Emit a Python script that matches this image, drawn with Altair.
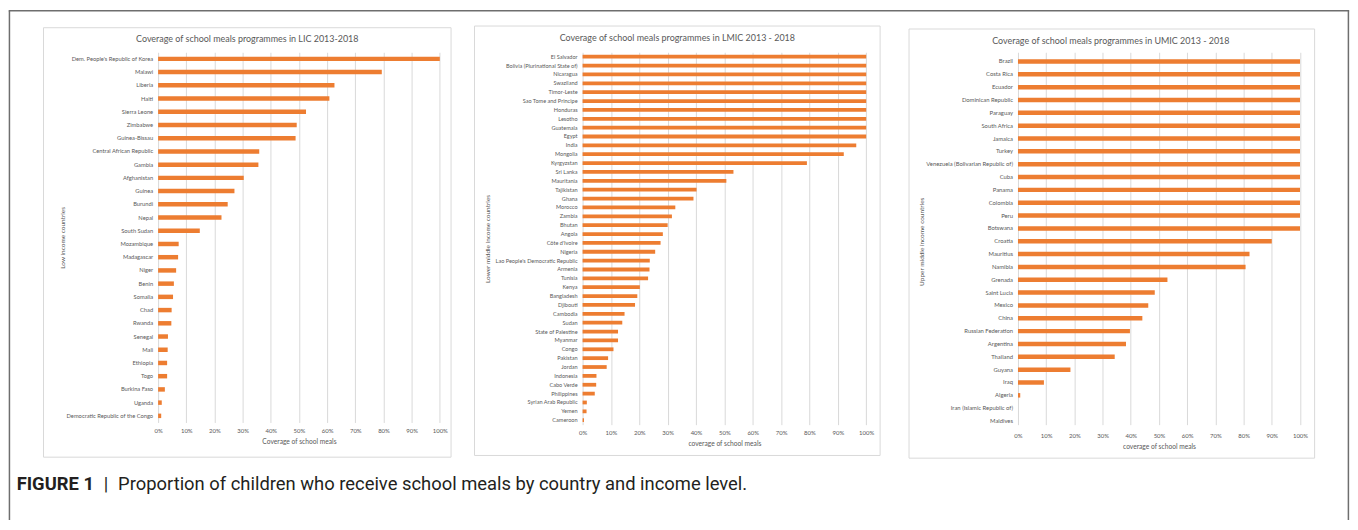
import altair as alt
import pandas as pd

# ---------------- data ----------------
lic_countries = [
    "Dem. People's Republic of Korea", "Malawi", "Liberia", "Haiti", "Sierra Leone",
    "Zimbabwe", "Guinea-Bissau", "Central African Republic", "Gambia", "Afghanistan",
    "Guinea", "Burundi", "Nepal", "South Sudan", "Mozambique", "Madagascar", "Niger",
    "Benin", "Somalia", "Chad", "Rwanda", "Senegal", "Mali", "Ethiopia", "Togo",
    "Burkina Faso", "Uganda", "Democratic Republic of the Congo",
]
lic_coverage = [
    100, 79.4, 62.6, 60.8, 52.5, 49.2, 48.8, 35.9, 35.6, 30.4, 27.1, 24.7, 22.5, 14.8,
    7.3, 7.1, 6.4, 5.6, 5.3, 4.8, 4.7, 3.5, 3.4, 3.2, 3.2, 2.4, 1.3, 1.1,
]

lmic_countries = [
    "El Salvador", "Bolivia (Plurinational State of)", "Nicaragua", "Swaziland",
    "Timor-Leste", "Sao Tome and Principe", "Honduras", "Lesotho", "Guatemala", "Egypt",
    "India", "Mongolia", "Kyrgyzstan", "Sri Lanka", "Mauritania", "Tajikistan", "Ghana",
    "Morocco", "Zambia", "Bhutan", "Angola", "Côte d'Ivoire", "Nigeria",
    "Lao People's Democratic Republic", "Armenia", "Tunisia", "Kenya", "Bangladesh",
    "Djibouti", "Cambodia", "Sudan", "State of Palestine", "Myanmar", "Congo", "Pakistan",
    "Jordan", "Indonesia", "Cabo Verde", "Philippines", "Syrian Arab Republic", "Yemen",
    "Cameroon",
]
lmic_coverage = [
    100, 100, 100, 100, 100, 100, 100, 100, 100, 100,
    96.5, 92.1, 79.1, 53.2, 50.7, 40.2, 39.1, 32.7, 31.5, 30.0,
    28.3, 27.5, 25.6, 23.7, 23.6, 23.1, 20.2, 19.3, 18.5, 14.8,
    14.0, 12.5, 12.5, 10.9, 9.0, 8.5, 4.9, 4.8, 4.3, 1.5, 1.4, 0.5,
]

umic_countries = [
    "Brazil", "Costa Rica", "Ecuador", "Dominican Republic", "Paraguay", "South Africa",
    "Jamaica", "Turkey", "Venezuela (Bolivarian Republic of)", "Cuba", "Panama",
    "Colombia", "Peru", "Botswana", "Croatia", "Mauritius", "Namibia", "Grenada",
    "Saint Lucia", "Mexico", "China", "Russian Federation", "Argentina", "Thailand",
    "Guyana", "Iraq", "Algeria", "Iran (Islamic Republic of)", "Maldives",
]
umic_coverage = [
    100, 100, 100, 100, 100, 100, 100, 100, 100, 100, 100, 100, 100, 100,
    90.0, 82.1, 80.7, 53.0, 48.5, 46.2, 44.1, 39.7, 38.3, 34.3, 18.6, 9.2, 0.8, 0, 0,
]

tick_values = [0, 10, 20, 30, 40, 50, 60, 70, 80, 90, 100]

caption_bold = "FIGURE 1"
caption_bar = "|"
caption_text = "Proportion of children who receive school meals by country and income level."

# ---------------- styles ----------------
BAR = "#ED7D31"
GRID = "#D9D9D9"
PANEL = "#D9D9D9"
TXT = "#595959"
FRAME = "#6E6E6E"
FONT = "Lato"
CAP_FONT = "Liberation Sans Narrow, Roboto"

one = pd.DataFrame({"k": [0]})


def make_panel(countries, coverage, width, height, bar_size, label_size, title,
               title_xy, x_title, x_title_y, y_title, y_title_xy, border,
               x_range=None, y_range=None, extra=()):
    df = pd.DataFrame({"country": countries, "coverage": coverage})
    xs = dict(domain=[0, 100], nice=False, zero=True)
    if x_range is not None:
        xs["range"] = x_range
    ys = dict(paddingInner=0, paddingOuter=0)
    if y_range is not None:
        ys["range"] = y_range
    bars = alt.Chart(df).mark_bar(size=bar_size, color=BAR).encode(
        x=alt.X(
            "coverage:Q",
            scale=alt.Scale(**xs),
            axis=alt.Axis(
                values=tick_values, labelExpr="datum.value + '%'", title=x_title,
                grid=True, gridColor=GRID, gridWidth=1, domain=False, ticks=False,
                tickSize=0, labelPadding=5, labelFontSize=6.0, labelFlush=False,
                titleFontSize=6.7, titleY=x_title_y, titleBaseline="middle",
            ),
        ),
        y=alt.Y(
            "country:N", sort=countries, scale=alt.Scale(**ys),
            axis=alt.Axis(
                title=y_title, grid=False, domain=False, ticks=False, tickSize=0,
                labelPadding=5.5, labelFontSize=label_size, labelLimit=300,
                titleFontSize=6.5, titleX=y_title_xy[0], titleY=y_title_xy[1],
                titleAngle=270, titleBaseline="middle", titleAlign="center",
            ),
        ),
    )
    rect = alt.Chart(one).mark_rect(fillOpacity=0, stroke=PANEL, strokeWidth=1).encode(
        x=alt.value(border[0]), x2=alt.value(border[1]),
        y=alt.value(border[2]), y2=alt.value(border[3]),
    )
    ttl = alt.Chart(one).mark_text(
        text=title, font=FONT, fontSize=9.0, color=TXT, align="center", baseline="middle"
    ).encode(x=alt.value(title_xy[0]), y=alt.value(title_xy[1]))
    return alt.layer(rect, bars, ttl, *extra).properties(width=width, height=height)


# decorations for the whole figure (drawn in the first panel's coordinates)
FR_L, FR_R, FR_T, FR_B = -149.55, 1197.4, -41.65, 470.6
frame_top = alt.Chart(one).mark_rule(color=FRAME, strokeWidth=1.5, strokeCap="square").encode(
    x=alt.value(FR_L), x2=alt.value(FR_R), y=alt.value(FR_T))
frame_left = alt.Chart(one).mark_rule(color=FRAME, strokeWidth=1.5).encode(
    x=alt.value(FR_L), y=alt.value(FR_T), y2=alt.value(FR_B))
frame_right = alt.Chart(one).mark_rule(color=FRAME, strokeWidth=1.5).encode(
    x=alt.value(FR_R), y=alt.value(FR_T), y2=alt.value(FR_B))
CAP_Y = 440.0
cap1 = alt.Chart(one).mark_text(
    text=caption_bold, font=CAP_FONT, fontWeight="bold", fontSize=18.5,
    color="#231F20", align="left", baseline="alphabetic",
).encode(x=alt.value(-142.3), y=alt.value(CAP_Y))
cap2 = alt.Chart(one).mark_text(
    text=caption_bar, font=CAP_FONT, fontSize=18.5,
    color="#231F20", align="center", baseline="alphabetic",
).encode(x=alt.value(-52.3), y=alt.value(CAP_Y))
cap3 = alt.Chart(one).mark_text(
    text=caption_text, font=CAP_FONT, fontSize=18.5,
    color="#231F20", align="left", baseline="alphabetic",
).encode(x=alt.value(-40.3), y=alt.value(CAP_Y))

p1 = make_panel(
    lic_countries, lic_coverage, 283.4, 372.4, 4.5, 5.8,
    "Coverage of school meals programmes in LIC 2013-2018", (89.7, -13.1),
    "Coverage of school meals", 18.9, "Low income countries", (-96.6, 186.2),
    (-115.3, 294.7, -24.7, 407.3),
    extra=(frame_top, frame_left, frame_right, cap1, cap2, cap3),
)
p2 = make_panel(
    lmic_countries, lmic_coverage, 294.6, 374.6, 3.8, 5.6,
    "Coverage of school meals programmes in LMIC 2013 - 2018", (95.3, -14.4),
    "coverage of school meals", 19.0, "Lower middle income countries", (-95.7, 187.3),
    (-108.7, 299.3, -26.4, 405.6), x_range=[0, 285.3],
)
p3 = make_panel(
    umic_countries, umic_coverage, 283.7, 377.4, 4.5, 5.9,
    "Coverage of school meals programmes in UMIC 2013 - 2018", (93.4, -11.4),
    "coverage of school meals", 19.2, "Upper middle income countries", (-97.3, 190.1),
    (-109.6, 298.4, -23.4, 408.3), y_range=[2.8, 377.4],
)

chart = alt.hconcat(p1, p2, p3, spacing=143, bounds="flush").properties(
    padding=0
).configure_view(strokeWidth=0).configure_axis(
    labelFont=FONT, titleFont=FONT, labelColor=TXT, titleColor=TXT,
    titleFontWeight="normal",
)

chart.save("out.html", embed_options={"renderer": "svg", "actions": False})
